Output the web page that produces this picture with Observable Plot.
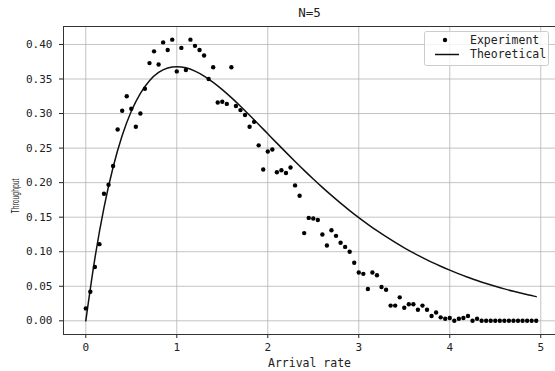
<!DOCTYPE html>
<html><head><meta charset="utf-8">
<script src="https://cdn.jsdelivr.net/npm/d3@7"></script>
<script src="https://cdn.jsdelivr.net/npm/@observablehq/plot@0.6"></script>
<style>body{margin:0;background:#fff}</style>
</head><body><div id="chart"></div>
<script>
const title = "N=5";
const xLabel = "Arrival rate";
const yLabel = "Throughput";
const legendLabels = ["Experiment", "Theoretical"];
const xTicks = [0, 1, 2, 3, 4, 5];
const yTicks = [0, 0.05, 0.10, 0.15, 0.20, 0.25, 0.30, 0.35, 0.40];

const arrivalRate = [
  0.00,0.05,0.10,0.15,0.20,0.25,0.30,0.35,0.40,0.45,0.50,0.55,0.60,0.65,0.70,0.75,0.80,0.85,0.90,0.95,
  1.00,1.05,1.10,1.15,1.20,1.25,1.30,1.35,1.40,1.45,1.50,1.55,1.60,1.65,1.70,1.75,1.80,1.85,1.90,1.95,
  2.00,2.05,2.10,2.15,2.20,2.25,2.30,2.35,2.40,2.45,2.50,2.55,2.60,2.65,2.70,2.75,2.80,2.85,2.90,2.95,
  3.00,3.05,3.10,3.15,3.20,3.25,3.30,3.35,3.40,3.45,3.50,3.55,3.60,3.65,3.70,3.75,3.80,3.85,3.90,3.95,
  4.00,4.05,4.10,4.15,4.20,4.25,4.30,4.35,4.40,4.45,4.50,4.55,4.60,4.65,4.70,4.75,4.80,4.85,4.90,4.95
];
const experimentThroughput = [
  0.018,0.042,0.078,0.111,0.184,0.197,0.224,0.277,0.304,0.325,0.307,0.281,0.300,0.336,0.373,0.390,0.371,0.403,0.392,0.407,
  0.361,0.395,0.363,0.407,0.398,0.392,0.384,0.350,0.367,0.316,0.317,0.314,0.367,0.311,0.305,0.298,0.281,0.288,0.254,0.219,
  0.245,0.248,0.215,0.218,0.214,0.222,0.196,0.181,0.127,0.149,0.148,0.146,0.125,0.109,0.131,0.123,0.113,0.107,0.100,0.084,
  0.070,0.068,0.046,0.070,0.066,0.049,0.045,0.022,0.022,0.034,0.019,0.024,0.024,0.016,0.022,0.016,0.007,0.012,0.005,0.003,
  0.004,0.000,0.003,0.004,0.007,0.000,0.003,0.000,0.000,0.000,0.000,0.000,0.000,0.000,0.000,0.000,0.000,0.000,0.000,0.000
];

const theoryRate = [
  0.0,0.1,0.2,0.3,0.4,0.5,0.6,0.7,0.8,0.9,1.0,1.1,1.2,1.3,1.4,1.5,1.6,1.7,1.8,1.9,
  2.0,2.1,2.2,2.3,2.4,2.5,2.6,2.7,2.8,2.9,3.0,3.1,3.2,3.3,3.4,3.5,3.6,3.7,3.8,3.9,
  4.0,4.1,4.2,4.3,4.4,4.5,4.6,4.7,4.8,4.9,4.95
];
const theoryThroughput = [
  0.0000,0.0905,0.1637,0.2222,0.2681,0.3033,0.3293,0.3476,0.3595,0.3659,0.3679,0.3662,0.3614,0.3543,0.3452,0.3347,0.3230,0.3106,0.2975,0.2842,
  0.2707,0.2572,0.2438,0.2306,0.2177,0.2052,0.1931,0.1815,0.1703,0.1596,0.1494,0.1397,0.1304,0.1217,0.1135,0.1057,0.0984,0.0915,0.0850,0.0790,
  0.0733,0.0679,0.0630,0.0583,0.0540,0.0500,0.0462,0.0427,0.0395,0.0365,0.0350
];

const experiment = arrivalRate.map((x, i) => ({x, y: experimentThroughput[i]}));
const theory = theoryRate.map((x, i) => ({x, y: theoryThroughput[i]}));

const mono = "'DejaVu Sans Mono', monospace";
const xDomain = [-0.245, 5.162];
const yDomain = [-0.0198, 0.426];

const chart = Plot.plot({
  width: 555, height: 371,
  marginLeft: 63, marginRight: 0, marginTop: 26, marginBottom: 37,
  style: {fontFamily: mono, fontSize: "11px", color: "#222", background: "#fff"},
  x: {domain: xDomain, ticks: xTicks, tickFormat: d3.format("d"), tickSize: 4, tickPadding: 5, label: null},
  y: {domain: yDomain, ticks: yTicks, tickFormat: d3.format(".2f"), tickSize: 4, tickPadding: 7, label: null},
  marks: [
    Plot.gridX(xTicks, {stroke: "#b0b0b0", strokeOpacity: 0.75, strokeWidth: 1}),
    Plot.gridY(yTicks, {stroke: "#b0b0b0", strokeOpacity: 0.75, strokeWidth: 1}),
    Plot.ruleY([yDomain[0], yDomain[1]], {stroke: "#333", strokeWidth: 1}),
    Plot.ruleX([xDomain[0]], {stroke: "#333", strokeWidth: 1}),
    Plot.line(theory, {x: "x", y: "y", stroke: "#111", strokeWidth: 1.5, curve: "monotone-x"}),
    Plot.dot(experiment, {x: "x", y: "y", r: 2.2, fill: "#000", stroke: "none"}),
    Plot.text([title], {frameAnchor: "top", dy: -14, lineAnchor: "middle", fontSize: 12.5, fill: "#222"}),
    Plot.text([xLabel], {frameAnchor: "bottom", dy: 29, lineAnchor: "middle", fontSize: 11.5, fill: "#222"})
  ]
});
document.getElementById("chart").appendChild(chart);

const svg = d3.select(chart);
// y label
svg.append("text")
  .attr("transform", "translate(16,196) rotate(-90)")
  .attr("text-anchor", "middle")
  .attr("dominant-baseline", "middle")
  .attr("font-family", "'Liberation Sans', sans-serif")
  .attr("font-size", 10.5)
  .attr("fill", "#222")
  .attr("textLength", 35)
  .attr("lengthAdjust", "spacingAndGlyphs")
  .text(yLabel);

// legend
const lg = svg.append("g");
lg.append("rect").attr("x", 424.5).attr("y", 31.5).attr("width", 124).attr("height", 34)
  .attr("rx", 2).attr("fill", "#fff").attr("fill-opacity", 0.8).attr("stroke", "#ccc");
lg.append("circle").attr("cx", 445).attr("cy", 40).attr("r", 2.2).attr("fill", "#000");
lg.append("line").attr("x1", 435).attr("x2", 459).attr("y1", 54.5).attr("y2", 54.5)
  .attr("stroke", "#111").attr("stroke-width", 1.5);
lg.selectAll("text.lab").data(legendLabels).join("text")
  .attr("x", 470).attr("y", (d, i) => 40 + i * 14.5)
  .attr("text-anchor", "start")
  .attr("dominant-baseline", "middle")
  .attr("font-family", mono).attr("font-size", 11.5).attr("fill", "#222")
  .text(d => d);
</script>
</body></html>
